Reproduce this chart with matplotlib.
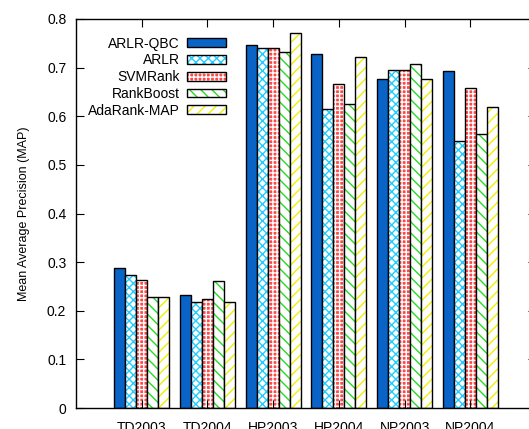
"""
MAP comparison of active learning rankers on LETOR datasets (bar chart)
"""

import numpy as np
import matplotlib
matplotlib.use("Agg")
import matplotlib.pyplot as plt

datasets = ["TD2003", "TD2004", "HP2003", "HP2004", "NP2003", "NP2004"]
methods = ["ARLR-QBC", "ARLR", "SVMRank", "RankBoost", "AdaRank-MAP"]

arlr_qbc = [0.288, 0.233, 0.747, 0.727, 0.677, 0.694]
arlr = [0.273, 0.218, 0.740, 0.615, 0.695, 0.550]
svmrank = [0.263, 0.224, 0.740, 0.667, 0.695, 0.658]
rankboost = [0.228, 0.261, 0.733, 0.625, 0.707, 0.563]
adarank = [0.228, 0.219, 0.771, 0.721, 0.677, 0.620]

series = [arlr_qbc, arlr, svmrank, rankboost, adarank]

# fill, hatch, hatch colour
styles = [
    ("#0a64c8", "", None),
    ("white", "xxxx", "#22ccff"),
    ("#ff4848", "++++", "white"),
    ("white", "\\\\\\", "#22dd22"),
    ("white", "///", "#f0f000"),
]

plt.rcParams["font.family"] = "Liberation Sans"
plt.rcParams["font.size"] = 10
plt.rcParams["hatch.linewidth"] = 1.0

fig = plt.figure(figsize=(5.29, 4.29), dpi=100)
ax = fig.add_axes([76 / 529, 1 - 408 / 429, 460 / 529, 389 / 429])

x = np.arange(1, len(datasets) + 1)
w = 1 / 6.0

handles = []
for i, (vals, (fc, hatch, hc)) in enumerate(zip(series, styles)):
    pos = x + (i - 2) * w
    if hatch:
        ax.bar(pos, vals, w, color=fc, hatch=hatch, edgecolor=hc, linewidth=0)
    else:
        ax.bar(pos, vals, w, color=fc, linewidth=0)
    ax.bar(pos, vals, w, fill=False, edgecolor="black", linewidth=1.0)
    # legend proxy
    h = plt.Rectangle((0, 0), 1, 1, facecolor=fc, hatch=hatch,
                      edgecolor=hc if hc else fc, linewidth=0)
    o = plt.Rectangle((0, 0), 1, 1, fill=False, edgecolor="black", linewidth=1.0)
    handles.append((h, o))

ax.legend(handles, methods, loc="upper left", bbox_to_anchor=(0.026, 0.955),
          frameon=False, markerfirst=False, fontsize=10,
          handlelength=2.8, handleheight=0.6, labelspacing=0.2,
          handletextpad=0.55, borderpad=0, borderaxespad=0)

ax.set_xlim(0, 7)
ax.set_ylim(0, 0.8)
ax.set_xticks(x)
ax.set_xticklabels(datasets)
ax.set_yticks(np.arange(0, 0.81, 0.1))
ax.set_yticklabels(["0"] + ["%.1f" % v for v in np.arange(0.1, 0.81, 0.1)])
ax.tick_params(direction="in", top=True, right=True, length=6, width=0.8)
ax.tick_params(axis="x", pad=9)
ax.tick_params(axis="y", pad=7)
ax.set_ylabel("Mean Average Precision (MAP)", fontsize=9, labelpad=12)
for s in ax.spines.values():
    s.set_linewidth(1.0)

fig.savefig("out.png", dpi=100)
